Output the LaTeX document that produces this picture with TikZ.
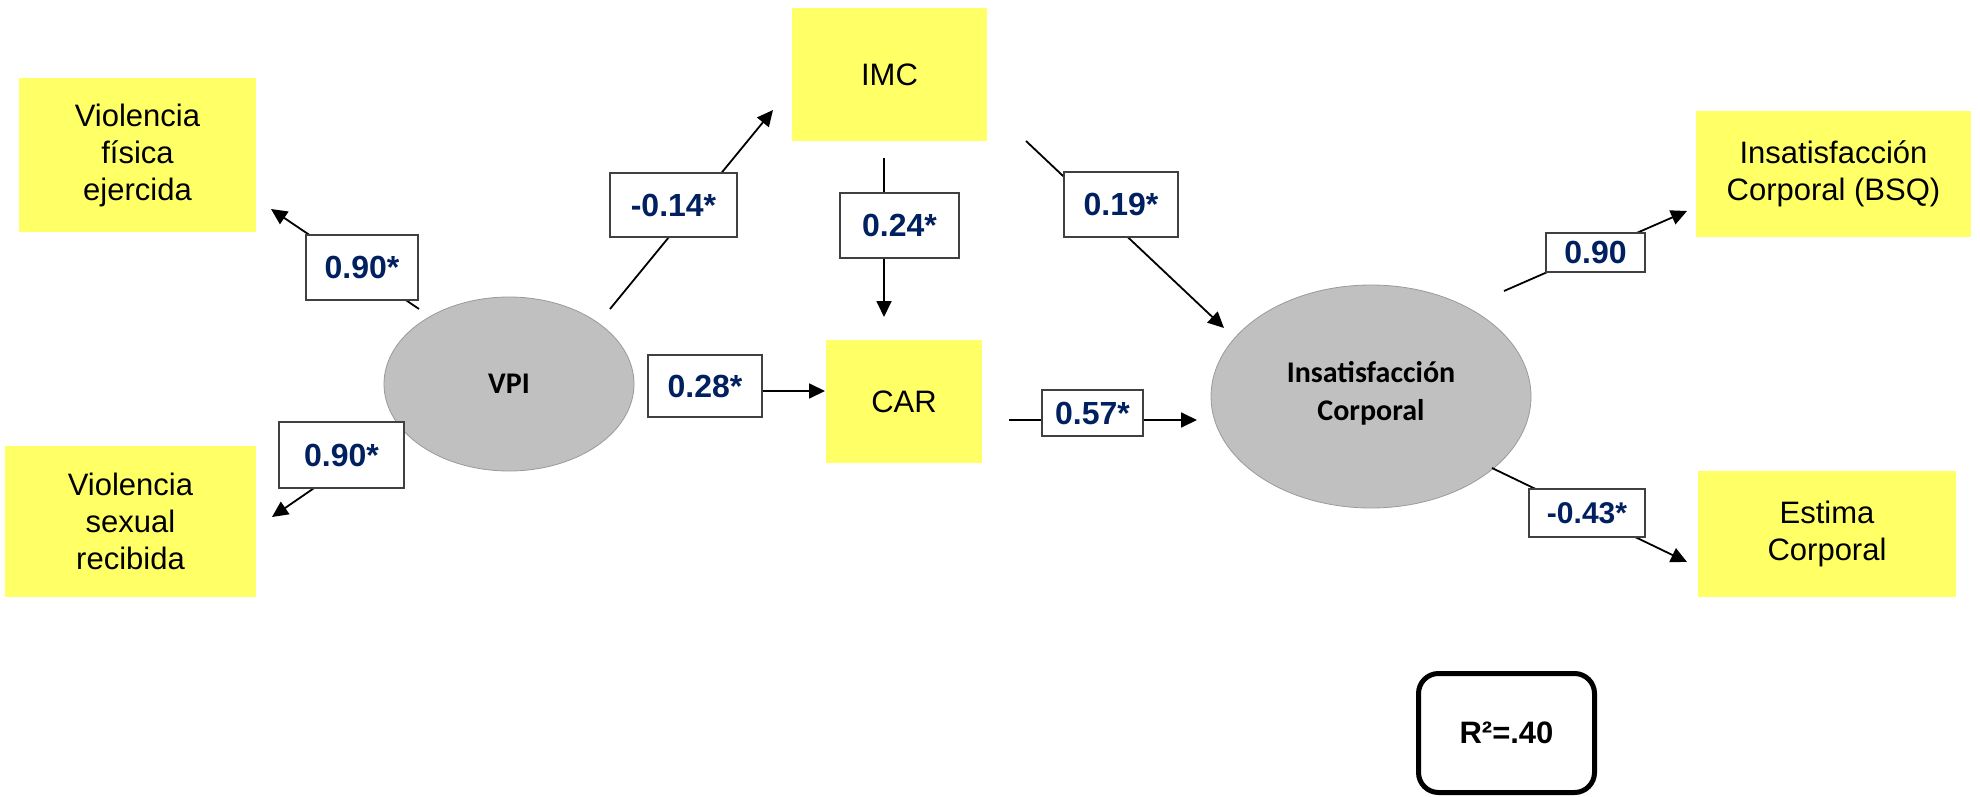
\documentclass[tikz,border=0pt]{standalone}
\usepackage{fontspec}
\setmainfont{Liberation Sans}
\newfontfamily\calib{Carlito}
\usetikzlibrary{arrows.meta,shapes.geometric}
\definecolor{varyellow}{HTML}{FFFF66}
\definecolor{latgray}{HTML}{C0C0C0}
\definecolor{latedge}{HTML}{9A9A9A}
\definecolor{coefblue}{HTML}{002060}
\definecolor{coefedge}{HTML}{404040}
\tikzset{
  observed/.style={rectangle, fill=varyellow, inner sep=0pt, align=center,
    font=\fontsize{31}{37}\selectfont},
  latent/.style={ellipse, fill=latgray, draw=latedge, line width=0.8pt,
    inner sep=0pt},
  latenttext/.style={inner sep=0pt, align=center,
    font=\calib\bfseries\fontsize{30}{38}\selectfont},
  coef/.style={rectangle, fill=white, draw=coefedge, line width=1.4pt,
    inner sep=0pt, text=coefblue, font=\bfseries\fontsize{32}{36}\selectfont},
  path/.style={line width=1.8pt, -{Triangle[length=16pt,width=15pt]}},
  rsq/.style={rectangle, rounded corners=20pt, draw=black, line width=5pt,
    fill=white, inner sep=0pt, font=\bfseries\fontsize{31}{36}\selectfont}
}
\begin{document}
\begin{tikzpicture}[x=1pt, y=-1pt]
\useasboundingbox (0,0) rectangle (1980,797);

% observed indicators
\node[observed, minimum width=237pt, minimum height=154pt] (fis) at (137.5,155)
  {Violencia\\física\\ejercida};
\node[observed, minimum width=251pt, minimum height=151pt] (sex) at (130.5,521.5)
  {Violencia\\sexual\\recibida};
\node[observed, minimum width=195pt, minimum height=133pt] (imc) at (889.5,74.5) {IMC};
\node[observed, minimum width=156pt, minimum height=123pt] (car) at (904,401.5) {CAR};
\node[observed, minimum width=275pt, minimum height=126pt] (bsq) at (1833.5,174)
  {Insatisfacción\\Corporal (BSQ)};
\node[observed, minimum width=258pt, minimum height=126pt] (est) at (1827,534)
  {Estima\\Corporal};

% latent variables
\node[latent, minimum width=250pt, minimum height=174pt] (vpi) at (509,384) {};
\node[latenttext] (vpitext) at (vpi) {VPI};
\node[latent, minimum width=320pt, minimum height=223pt] (ic) at (1371,396.5) {};
\node[latenttext] (ictext) at (1371,393) {Insatisfacción\\Corporal};

% connector end points
\coordinate (vpiA) at (419,309);   \coordinate (fisT) at (271,209);
\coordinate (vpiB) at (400,429);   \coordinate (sexT) at (272,517);
\coordinate (vpiC) at (610,309);   \coordinate (imcT) at (773,110);
\coordinate (imcA) at (884,158);   \coordinate (carT) at (884,317);
\coordinate (vpiD) at (700,391);   \coordinate (carL) at (825,391);
\coordinate (imcB) at (1026,141);  \coordinate (icT1) at (1224,328);
\coordinate (carR) at (1009,420);  \coordinate (icT2) at (1197,420);
\coordinate (icA) at (1504,291);   \coordinate (bsqT) at (1687,211);
\coordinate (icB) at (1492,468);   \coordinate (estT) at (1687,562);

% paths
\draw[path] (vpiA) -- (fisT);
\draw[path] (vpiB) -- (sexT);
\draw[path] (vpiC) -- (imcT);
\draw[path] (imcA) -- (carT);
\draw[path] (vpiD) -- (carL);
\draw[path] (imcB) -- (icT1);
\draw[path] (carR) -- (icT2);
\draw[path] (icA) -- (bsqT);
\draw[path] (icB) -- (estT);

% path coefficients
\node[coef, minimum width=112pt, minimum height=65pt] (k1) at (362,267.5) {0.90*};
\node[coef, minimum width=125pt, minimum height=66pt] (k2) at (341.5,455) {0.90*};
\node[coef, minimum width=127pt, minimum height=64pt] (k3) at (673.5,205) {-0.14*};
\node[coef, minimum width=119pt, minimum height=65pt] (k4) at (899.5,225.5) {0.24*};
\node[coef, minimum width=114pt, minimum height=62pt] (k5) at (705,386) {0.28*};
\node[coef, minimum width=114pt, minimum height=65pt] (k6) at (1121,204.5) {0.19*};
\node[coef, minimum width=101pt, minimum height=46pt] (k7) at (1092.5,413) {0.57*};
\node[coef, minimum width=99pt, minimum height=39pt] (k8) at (1595.5,252.5) {0.90};
\node[coef, minimum width=116pt, minimum height=48pt, font=\bfseries\fontsize{30}{34}\selectfont]
  (k9) at (1587,513) {-0.43*};

% explained variance
\node[rsq, minimum width=176pt, minimum height=119pt] (r2) at (1506.5,733) {R²=.40};
\end{tikzpicture}
\end{document}
